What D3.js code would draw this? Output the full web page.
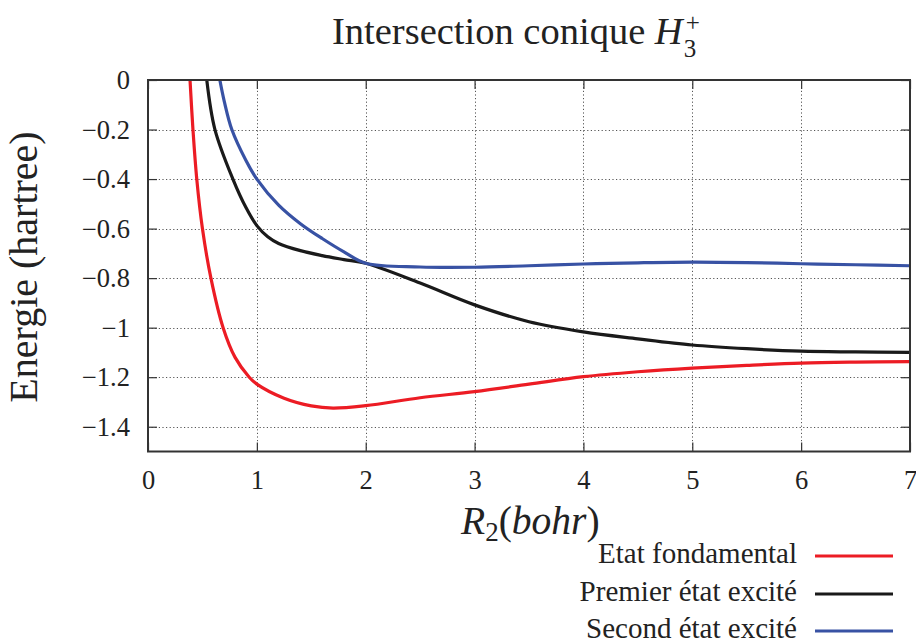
<!DOCTYPE html>
<html>
<head>
<meta charset="utf-8">
<script src="https://cdn.jsdelivr.net/npm/d3@7"></script>
<style>
  html, body { margin: 0; padding: 0; background: #fff; }
  svg { display: block; }
</style>
</head>
<body>
<svg id="chart" width="916" height="641"></svg>
<script>
// ---- data ----
const xTicks = [0, 1, 2, 3, 4, 5, 6, 7];
const yTicks = [0, -0.2, -0.4, -0.6, -0.8, -1, -1.2, -1.4];
const yTickLabels = ["0", "\u22120.2", "\u22120.4", "\u22120.6", "\u22120.8", "\u22121", "\u22121.2", "\u22121.4"];

const seriesNames = ["Etat fondamental", "Premier état excité", "Second état excité"];
const seriesColors = ["#ec1c24", "#1a1a1a", "#3852a4"];

const groundR = [0.386, 0.413, 0.448, 0.50, 0.578, 0.69, 0.80, 0.93, 1.0, 1.25, 1.5, 1.7, 2.0, 2.5, 3.0, 3.5, 4.0, 4.5, 5.0, 5.5, 6.0, 6.5, 7.0];
const groundE = [0, -0.2, -0.4, -0.6, -0.8, -1.0, -1.12, -1.2, -1.228, -1.285, -1.316, -1.325, -1.315, -1.283, -1.258, -1.228, -1.198, -1.178, -1.163, -1.152, -1.143, -1.139, -1.137];

const firstR = [0.54, 0.615, 0.78, 0.9, 1.0, 1.1, 1.2, 1.4, 1.6, 1.8, 2.0, 2.5, 3.0, 3.5, 4.0, 4.5, 5.0, 5.5, 6.0, 6.5, 7.0];
const firstE = [0, -0.2, -0.4, -0.515, -0.588, -0.633, -0.66, -0.689, -0.709, -0.725, -0.74, -0.82, -0.908, -0.976, -1.017, -1.045, -1.07, -1.085, -1.095, -1.098, -1.1];

const secondR = [0.66, 0.70, 0.77, 0.9, 1.0, 1.2, 1.4, 1.6, 1.8, 2.0, 2.5, 3.0, 3.5, 4.0, 4.5, 5.0, 5.5, 6.0, 6.5, 7.0];
const secondE = [0, -0.085, -0.2, -0.325, -0.40, -0.505, -0.58, -0.64, -0.694, -0.74, -0.755, -0.756, -0.75, -0.743, -0.738, -0.735, -0.737, -0.742, -0.746, -0.75];

const series = [
  { name: seriesNames[0], color: seriesColors[0], pts: groundR.map((r, i) => [r, groundE[i]]) },
  { name: seriesNames[1], color: seriesColors[1], pts: firstR.map((r, i) => [r, firstE[i]]) },
  { name: seriesNames[2], color: seriesColors[2], pts: secondR.map((r, i) => [r, secondE[i]]) }
];

// ---- layout ----
const FONT = "'Liberation Serif', 'Tinos', 'Times New Roman', serif";
const svg = d3.select("#chart").attr("font-family", FONT);
const L = 148, R = 910, T = 80, B = 451.5;
const x = d3.scaleLinear().domain([0, 7]).range([L, R]);
const y = d3.scaleLinear().domain([-1.5, 0]).range([B, T]);

svg.append("defs").append("clipPath").attr("id", "clip")
  .append("rect").attr("x", L).attr("y", T).attr("width", R - L).attr("height", B - T);

// grid
const grid = svg.append("g").attr("stroke", "#555").attr("stroke-width", 1).attr("stroke-dasharray", "1.2,2.4");
grid.selectAll(".gx").data(xTicks.slice(1, -1)).enter().append("line")
  .attr("x1", d => Math.round(x(d)) + 0.5).attr("x2", d => Math.round(x(d)) + 0.5)
  .attr("y1", T).attr("y2", B);
grid.selectAll(".gy").data(yTicks.slice(1)).enter().append("line")
  .attr("y1", d => Math.round(y(d)) + 0.5).attr("y2", d => Math.round(y(d)) + 0.5)
  .attr("x1", L).attr("x2", R);

// axes with inward ticks (mirrored)
const tickLen = 9;
const axB = svg.append("g").attr("transform", `translate(0,${B})`)
  .call(d3.axisBottom(x).tickValues(xTicks).tickSizeInner(-tickLen).tickSizeOuter(0).tickFormat(d3.format("d")));
const axT = svg.append("g").attr("transform", `translate(0,${T})`)
  .call(d3.axisTop(x).tickValues(xTicks).tickSizeInner(-tickLen).tickSizeOuter(0).tickFormat(""));
const axL = svg.append("g").attr("transform", `translate(${L},0)`)
  .call(d3.axisLeft(y).tickValues(yTicks).tickSizeInner(-tickLen).tickSizeOuter(0).tickFormat((d, i) => yTickLabels[i]));
const axR = svg.append("g").attr("transform", `translate(${R},0)`)
  .call(d3.axisRight(y).tickValues(yTicks).tickSizeInner(-tickLen).tickSizeOuter(0).tickFormat(""));

[axB, axT, axL, axR].forEach(a => {
  a.attr("font-family", FONT);
  a.select(".domain").remove();
  a.selectAll(".tick line").attr("stroke", "#333").attr("stroke-width", 1.2);
});
const tickSize = 26.5;
axB.selectAll(".tick text").attr("font-size", tickSize)
  .attr("fill", "#222").attr("y", 0).attr("dy", 0).attr("transform", "translate(0,37.5)");
axL.selectAll(".tick text").attr("font-size", tickSize)
  .attr("fill", "#222").attr("x", -18).attr("dy", "0.33em");

// curves
const line = d3.line().x(d => x(d[0])).y(d => y(d[1])).curve(d3.curveCatmullRom.alpha(0.5));
const curves = svg.append("g").attr("clip-path", "url(#clip)");
curves.selectAll("path").data(series).enter().append("path")
  .attr("d", d => line(d.pts)).attr("fill", "none")
  .attr("stroke", d => d.color).attr("stroke-width", 3.2).attr("stroke-linejoin", "round");

// frame
svg.append("rect").attr("x", L).attr("y", T).attr("width", R - L).attr("height", B - T)
  .attr("fill", "none").attr("stroke", "#333").attr("stroke-width", 2);

// title
const titleSize = 38.5;
const title = svg.append("text").attr("x", 332).attr("y", 44).attr("font-size", titleSize);
title.append("tspan").text("Intersection conique ");
title.append("tspan").attr("font-style", "italic").text("H");
const tEnd = title.node().getComputedTextLength();
const scriptSize = 25;
svg.append("text").attr("x", 332 + tEnd + 1).attr("y", 57).attr("font-size", scriptSize).text("3");
svg.append("text").attr("x", 332 + tEnd + 3).attr("y", 31).attr("font-size", scriptSize).text("+");

// y label
svg.append("text").attr("transform", "translate(37,267) rotate(-90)")
  .attr("text-anchor", "middle").attr("font-size", 40)
  .text("Energie (hartree)");

// x label
const xlSize = 39.5;
const xl = svg.append("text").attr("x", 461).attr("y", 534).attr("font-size", xlSize);
xl.append("tspan").attr("font-style", "italic").text("R");
xl.append("tspan").attr("font-size", 27).attr("dy", 7).text("2");
xl.append("tspan").attr("dy", -7).text("(");
xl.append("tspan").attr("font-style", "italic").text("bohr");
xl.append("tspan").text(")");

// legend
const legY = [556, 594, 631];
const legSize = 29;
const leg = svg.append("g");
series.forEach((s, i) => {
  leg.append("text").attr("x", 797).attr("y", legY[i] + 7).attr("text-anchor", "end")
    .attr("font-size", legSize).text(s.name);
  leg.append("line").attr("x1", 815).attr("x2", 893).attr("y1", legY[i]).attr("y2", legY[i])
    .attr("stroke", s.color).attr("stroke-width", 3.2);
});

svg.selectAll("text").attr("font-family", FONT).style("font-family", FONT).attr("fill", "#222");
</script>
</body>
</html>
